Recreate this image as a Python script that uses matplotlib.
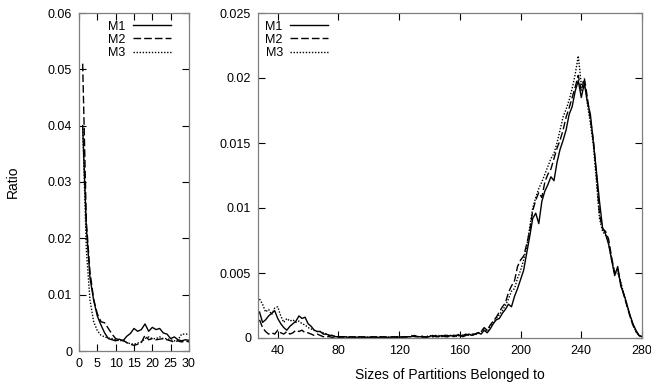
import numpy as np
import matplotlib
matplotlib.use("Agg")
import matplotlib.pyplot as plt

plt.rcParams['font.family'] = ['Liberation Sans', 'DejaVu Sans']
plt.rcParams['font.size'] = 9

# ---------------- left panel data (small partition sizes) ----------------
x_left = np.arange(1, 31)
m1_left = [0.0400, 0.0220, 0.0130, 0.0090, 0.0062, 0.0046, 0.0032, 0.0022, 0.0020, 0.0018,
           0.0021, 0.0018, 0.0026, 0.0031, 0.0040, 0.0035, 0.0038, 0.0048, 0.0035, 0.0042,
           0.0038, 0.0040, 0.0032, 0.0030, 0.0022, 0.0025, 0.0020, 0.0018, 0.0020, 0.0019]
m2_left = [0.0510, 0.0230, 0.0140, 0.0092, 0.0066, 0.0052, 0.0050, 0.0040, 0.0030, 0.0022,
           0.0020, 0.0019, 0.0015, 0.0012, 0.0010, 0.0012, 0.0015, 0.0028, 0.0020, 0.0022,
           0.0020, 0.0021, 0.0022, 0.0020, 0.0018, 0.0016, 0.0018, 0.0016, 0.0018, 0.0016]
m3_left = [0.0400, 0.0180, 0.0090, 0.0052, 0.0036, 0.0028, 0.0025, 0.0023, 0.0022, 0.0020,
           0.0018, 0.0019, 0.0015, 0.0013, 0.0012, 0.0014, 0.0016, 0.0022, 0.0025, 0.0022,
           0.0022, 0.0025, 0.0022, 0.0022, 0.0020, 0.0018, 0.0020, 0.0030, 0.0030, 0.0030]

# ---------------- right panel data (larger partition sizes) ----------------
x_right = np.arange(28, 281, 2)

m1_right = [
    # 28 .. 80
    0.0020, 0.0012, 0.0014, 0.0017, 0.0019, 0.0021, 0.0015, 0.0011, 0.0008, 0.0006,
    0.0009, 0.0011, 0.0013, 0.0017, 0.0015, 0.0016, 0.0011, 0.0009, 0.0006, 0.0005,
    0.0005, 0.0003, 0.0003, 0.0002, 0.0002, 0.0001, 0.0001,
    # 82 .. 170
    0.0001, 0.0001, 0.00005, 0.0001, 0.00005, 0.00005, 0.0001, 0.00005, 0.00005, 0.00005,
    0.0001, 0.00005, 0.00005, 0.00005, 0.0001, 0.00005, 0.00005, 0.0001, 0.00005, 0.00005,
    0.0001, 0.00005, 0.0001, 0.0001, 0.0002, 0.0001, 0.0001, 0.00005, 0.0001, 0.0001,
    0.0002, 0.0001, 0.0001, 0.0002, 0.0001, 0.0001, 0.0002, 0.0001, 0.0002, 0.0002,
    0.0001, 0.0002, 0.0003, 0.0002, 0.0003,
    # 172 .. 280
    0.0004, 0.0003, 0.0006, 0.0004, 0.0007, 0.0011, 0.0014, 0.0015, 0.0019, 0.0022,
    0.0026, 0.0024, 0.0032, 0.0038, 0.0045, 0.0052, 0.0065, 0.0078, 0.0092, 0.0096,
    0.0088, 0.0105, 0.0113, 0.0118, 0.0124, 0.0121, 0.0135, 0.0145, 0.0152, 0.0160,
    0.0172, 0.0178, 0.0190, 0.0198, 0.0185, 0.0196, 0.0182, 0.0172, 0.0150, 0.0128,
    0.0105, 0.0085, 0.0080, 0.0072, 0.0060, 0.0048, 0.0055, 0.0040, 0.0034, 0.0026,
    0.0018, 0.0011, 0.0006, 0.0002, 0.0001]

m2_right = [
    # 28 .. 80
    0.0014, 0.0008, 0.0005, 0.0003, 0.0004, 0.0003, 0.0006, 0.0004, 0.0003, 0.0005,
    0.0003, 0.0004, 0.0006, 0.0005, 0.0006, 0.0004, 0.0004, 0.0003, 0.0002, 0.0003,
    0.0002, 0.0001, 0.0001, 0.0001, 0.00005, 0.0001, 0.00005,
    # 82 .. 170
    0.00005, 0.0001, 0.00005, 0.00005, 0.0001, 0.00005, 0.00005, 0.0001, 0.00005, 0.00005,
    0.00005, 0.0001, 0.00005, 0.0001, 0.00005, 0.00005, 0.0001, 0.00005, 0.0001, 0.00005,
    0.00005, 0.0001, 0.0001, 0.0002, 0.0001, 0.0001, 0.0002, 0.0001, 0.00005, 0.0001,
    0.0001, 0.0002, 0.0001, 0.0001, 0.0002, 0.0002, 0.0001, 0.0002, 0.0002, 0.0003,
    0.0002, 0.0003, 0.0002, 0.0003, 0.0003,
    # 172 .. 280
    0.0004, 0.0005, 0.0008, 0.0006, 0.0010, 0.0013, 0.0016, 0.0020, 0.0024, 0.0027,
    0.0035, 0.0040, 0.0044, 0.0055, 0.0060, 0.0063, 0.0072, 0.0082, 0.0098, 0.0106,
    0.0112, 0.0108, 0.0120, 0.0126, 0.0130, 0.0138, 0.0146, 0.0152, 0.0160, 0.0170,
    0.0177, 0.0185, 0.0193, 0.0202, 0.0190, 0.0200, 0.0185, 0.0168, 0.0152, 0.0125,
    0.0095, 0.0084, 0.0082, 0.0076, 0.0062, 0.0050, 0.0053, 0.0042, 0.0033, 0.0025,
    0.0017, 0.0010, 0.0005, 0.0002, 0.0000]

m3_right = [
    # 28 .. 80
    0.0030, 0.0026, 0.0020, 0.0022, 0.0018, 0.0023, 0.0024, 0.0017, 0.0012, 0.0015,
    0.0013, 0.0014, 0.0012, 0.0013, 0.0011, 0.0010, 0.0008, 0.0007, 0.0006, 0.0005,
    0.0005, 0.0004, 0.0003, 0.0002, 0.0002, 0.0001, 0.0001,
    # 82 .. 170
    0.0001, 0.00005, 0.0001, 0.00005, 0.00005, 0.0001, 0.00005, 0.00005, 0.0001, 0.00005,
    0.00005, 0.00005, 0.0001, 0.00005, 0.00005, 0.0001, 0.00005, 0.00005, 0.0001, 0.0001,
    0.00005, 0.0001, 0.0001, 0.0001, 0.0002, 0.0001, 0.0001, 0.0001, 0.0001, 0.0002,
    0.0001, 0.0001, 0.0002, 0.0001, 0.0002, 0.0001, 0.0002, 0.0002, 0.0001, 0.0002,
    0.0002, 0.0002, 0.0003, 0.0002, 0.0003,
    # 172 .. 280
    0.0003, 0.0005, 0.0007, 0.0005, 0.0009, 0.0012, 0.0015, 0.0018, 0.0021, 0.0025,
    0.0030, 0.0036, 0.0038, 0.0046, 0.0052, 0.0060, 0.0070, 0.0085, 0.0100, 0.0108,
    0.0115, 0.0120, 0.0126, 0.0132, 0.0138, 0.0142, 0.0150, 0.0160, 0.0170, 0.0176,
    0.0183, 0.0192, 0.0203, 0.0217, 0.0195, 0.0198, 0.0180, 0.0165, 0.0148, 0.0120,
    0.0092, 0.0082, 0.0079, 0.0073, 0.0060, 0.0050, 0.0050, 0.0043, 0.0034, 0.0026,
    0.0017, 0.0010, 0.0005, 0.0002, 0.0001]

series_labels = ["M1", "M2", "M3"]
left_ticks = [0, 5, 10, 15, 20, 25, 30]
right_ticks = [40, 80, 120, 160, 200, 240, 280]

# ---------------- figure ----------------
W, H = 651, 388
fig = plt.figure(figsize=(W / 100, H / 100), dpi=100)

def px_axes(x0, x1, ytop, ybot):
    return fig.add_axes([x0 / W, (H - ybot) / H, (x1 - x0) / W, (ybot - ytop) / H])

ax1 = px_axes(79, 189, 13, 351)
ax2 = px_axes(258, 642, 13, 338)

styles = [dict(ls='-'), dict(ls=(0, (5.5, 2.2))), dict(ls=(0, (1.0, 1.2)))]
frame_col = '#7f7f7f'

for ax in (ax1, ax2):
    for s in ax.spines.values():
        s.set_color(frame_col)
        s.set_linewidth(0.9)
    ax.tick_params(direction='in', length=5, width=0.8, color='black',
                   top=True, right=True, pad=5, labelsize=9)

for ys, lab, st in zip([m1_left, m2_left, m3_left], series_labels, styles):
    ax1.plot(x_left, ys, color='black', lw=1.0, label=lab, **st)
ax1.set_xlim(0, 30)
ax1.set_ylim(0, 0.06)
ax1.set_xticks(left_ticks)
ax1.set_yticks([0, 0.01, 0.02, 0.03, 0.04, 0.05, 0.06])
ax1.set_yticklabels(['0', '0.01', '0.02', '0.03', '0.04', '0.05', '0.06'])
ax1.set_ylabel('Ratio', labelpad=20, fontsize=10)
ax1.legend(loc='upper right', bbox_to_anchor=(0.9, 1.0), frameon=False, markerfirst=False,
           handlelength=3.0, handletextpad=0.6, labelspacing=0.1, borderaxespad=0.2,
           fontsize=9)

for ys, lab, st in zip([m1_right, m2_right, m3_right], series_labels, styles):
    ax2.plot(x_right, ys, color='black', lw=1.0, label=lab, **st)
ax2.set_xlim(27, 280)
ax2.set_ylim(0, 0.025)
ax2.set_xticks(right_ticks)
ax2.set_yticks([0, 0.005, 0.01, 0.015, 0.02, 0.025])
ax2.set_yticklabels(['0', '0.005', '0.01', '0.015', '0.02', '0.025'])
ax2.set_xlabel('Sizes of Partitions Belonged to', labelpad=8, fontsize=10)
ax2.legend(loc='upper left', frameon=False, markerfirst=False, handlelength=3.0,
           handletextpad=0.6, labelspacing=0.1, borderaxespad=0.2, fontsize=9)

fig.savefig('out.png', dpi=100)
